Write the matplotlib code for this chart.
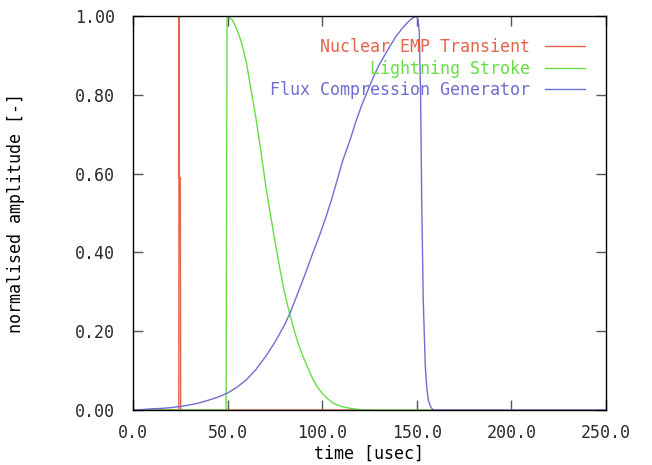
import numpy as np
import matplotlib
matplotlib.use("Agg")
import matplotlib.pyplot as plt

# pulse shapes, read off the old gnuplot output
# time in usec, amplitude normalised to 1
t_emp = [0.0, 24.2, 24.35, 24.5, 25.0, 25.2, 125.0]
a_emp = [0.0, 0.0, 1.0, 0.59, 0.59, 0.0, 0.0]

t_light = [0.0, 49.2, 49.7, 50.0, 52.5, 55.0, 57.5, 60.0, 62.5, 65.0, 67.5, 70.0,
           72.5, 75.0, 77.5, 80.0, 82.5, 85.0, 87.5, 90.0, 92.5, 95.0, 97.5,
           100.0, 103.0, 106.0, 110.0, 115.0, 120.0, 123.0, 160.0]
a_light = [0.0, 0.0, 0.99, 1.0, 0.99, 0.965, 0.93, 0.88, 0.81, 0.74, 0.66, 0.575,
           0.50, 0.43, 0.362, 0.30, 0.25, 0.205, 0.166, 0.134, 0.106, 0.079, 0.058,
           0.042, 0.028, 0.017, 0.009, 0.004, 0.001, 0.0, 0.0]

t_flux = [0.0, 5.0, 10.0, 15.0, 20.0, 25.0, 30.0, 35.0, 40.0, 45.0, 50.0, 55.0,
          60.0, 65.0, 70.0, 75.0, 80.0, 83.0, 86.0, 89.0, 92.0, 95.0, 98.8, 102.0,
          105.0, 108.0, 111.0, 114.7, 118.0, 121.0, 124.0, 127.0, 130.0, 133.0,
          136.0, 139.0, 142.0, 145.0, 147.5, 149.9, 150.7, 151.3, 152.0, 152.6,
          153.4, 154.5, 155.3, 156.1, 157.3, 158.7, 250.0]
a_flux = [0.0, 0.001, 0.003, 0.004, 0.006, 0.009, 0.013, 0.018, 0.025, 0.033,
          0.043, 0.058, 0.077, 0.103, 0.135, 0.172, 0.215, 0.246, 0.283, 0.32,
          0.358, 0.398, 0.446, 0.49, 0.535, 0.585, 0.635, 0.685, 0.735, 0.775,
          0.81, 0.845, 0.875, 0.90, 0.925, 0.948, 0.967, 0.983, 0.994, 1.0, 0.99,
          0.96, 0.80, 0.53, 0.28, 0.11, 0.055, 0.025, 0.008, 0.0, 0.0]

labels = ["Nuclear EMP Transient", "Lightning Stroke", "Flux Compression Generator"]

col_red = "#e5634a"
col_green = "#66dd44"
col_blue = "#6e6ed2"

plt.rcParams["font.family"] = ["DejaVu Sans Mono"]
plt.rcParams["font.size"] = 12
plt.rcParams["text.color"] = "#2a2a2a"

fig = plt.figure(figsize=(6.52, 4.65), dpi=100)
ax = fig.add_axes([133/652., 1-410/465., (606-133)/652., (410-16)/465.])

ax.plot(t_emp, a_emp, color=col_red, lw=1.0, label=labels[0])
ax.plot(t_light, a_light, color=col_green, lw=1.0, label=labels[1])
ax.plot(t_flux, a_flux, color=col_blue, lw=1.0, label=labels[2])

ax.set_xlim(0, 250)
ax.set_ylim(0, 1)
ax.set_xticks(np.arange(0, 251, 50))
ax.set_yticks(np.arange(0, 1.01, 0.2))
ax.set_xticklabels(["%.1f" % v for v in np.arange(0, 251, 50)])
ax.set_yticklabels(["%.2f" % v for v in np.arange(0, 1.01, 0.2)])
ax.tick_params(direction="in", length=7, width=1, color="#555555",
               top=True, right=True, labelcolor="#2a2a2a")
ax.tick_params(axis="x", pad=10)
ax.tick_params(axis="y", pad=13)

ax.set_xlabel("time [usec]", labelpad=2)
ax.set_ylabel("normalised amplitude [-]")
ax.yaxis.set_label_coords(-0.228, 0.5)

for s in ax.spines.values():
    s.set_linewidth(1.0)
    s.set_color("black")

# gnuplot style key: text first, right aligned, coloured like the line
leg = ax.legend(loc="upper right", bbox_to_anchor=(585/652., 1-38/465.),
                bbox_transform=fig.transFigure, frameon=False, markerfirst=False,
                labelcolor="linecolor", handlelength=2.4, handletextpad=0.9,
                labelspacing=0.21, borderpad=0, borderaxespad=0)

fig.savefig("out.png", dpi=100)
